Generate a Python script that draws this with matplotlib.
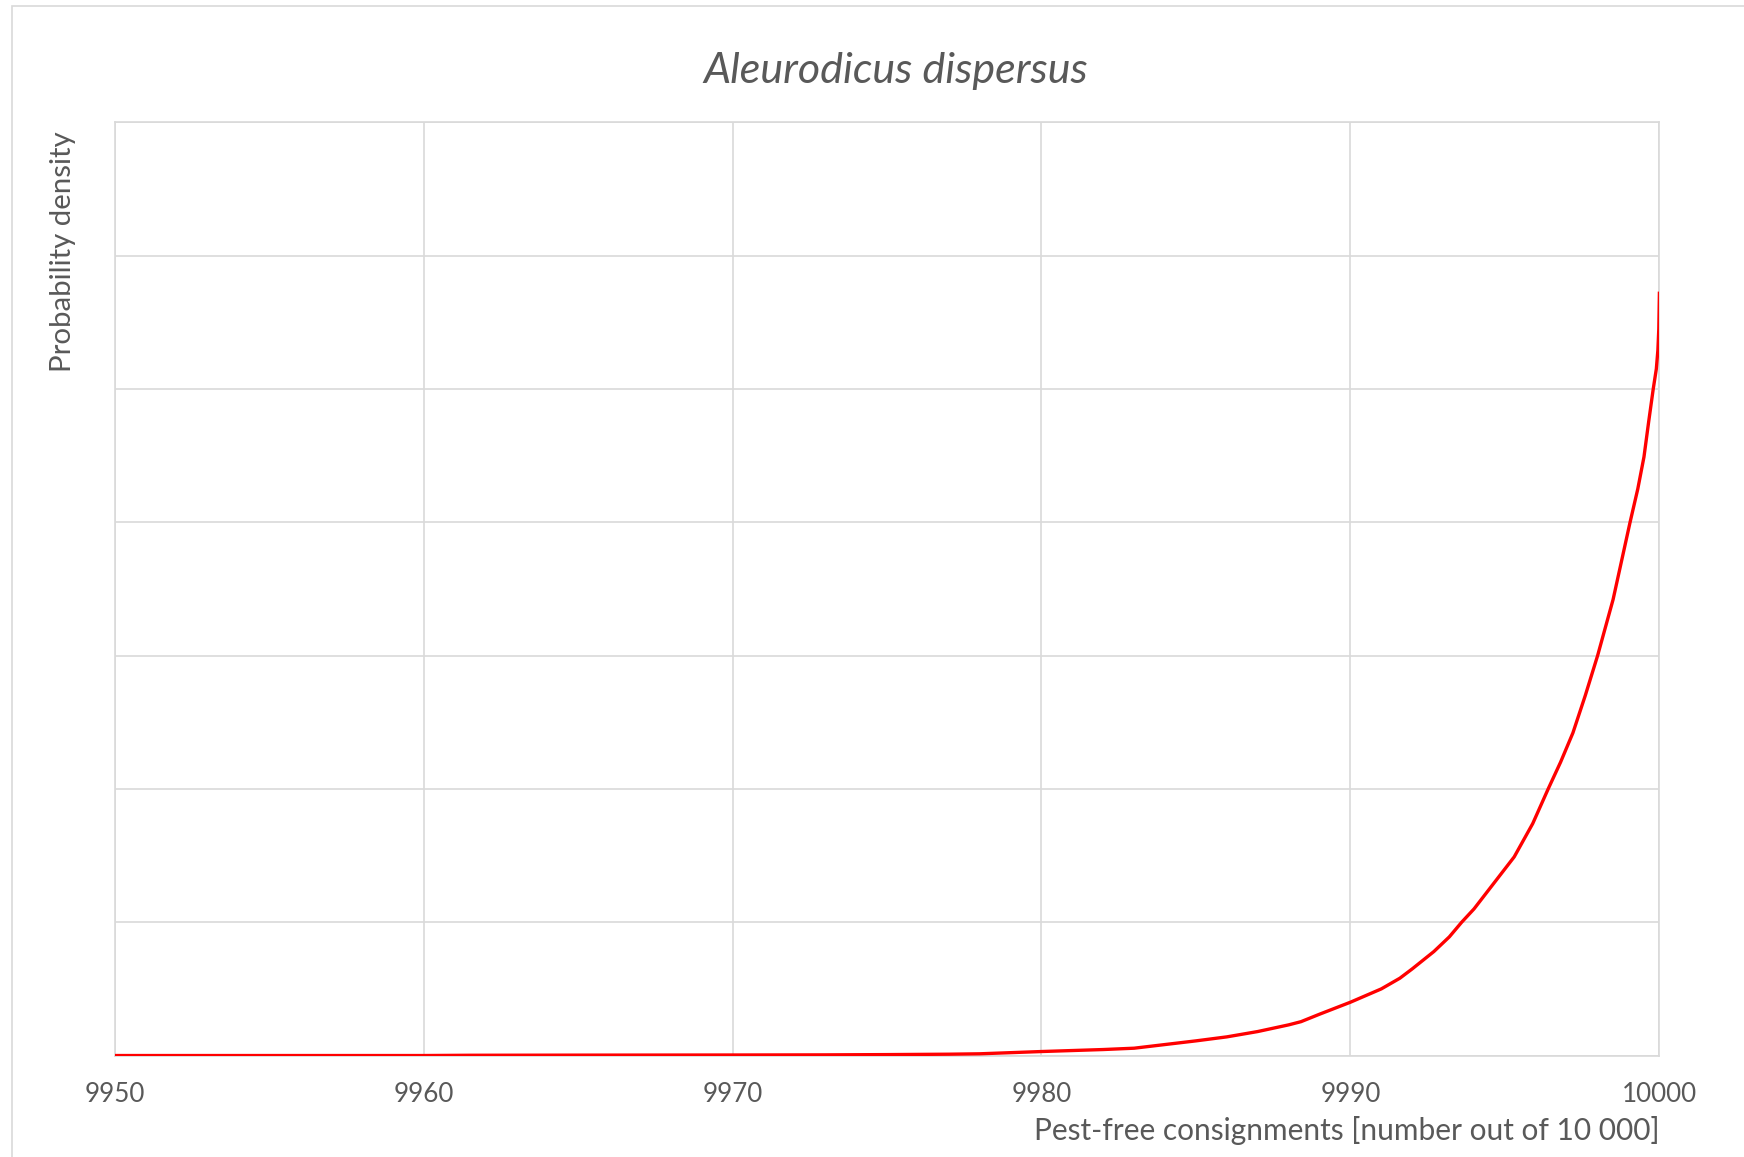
import matplotlib.pyplot as plt
from matplotlib.patches import Rectangle

# values (y in units of one gridline step)
pest_free = [9950, 9955, 9960, 9961.5, 9965, 9970, 9973, 9975, 9977, 9978,
             9980, 9982, 9983, 9985, 9986, 9987, 9988, 9988.4, 9989, 9990,
             9991, 9991.6, 9992, 9992.7, 9993.2, 9993.6, 9994.0, 9994.5,
             9995.0, 9995.3, 9995.9, 9996.4, 9996.8, 9997.2, 9997.6, 9998.0,
             9998.5, 9999.05, 9999.3, 9999.5, 9999.65, 9999.8, 9999.9,
             9999.95, 9999.98, 10000]
density = [0.0, 0.0, 0.0, 0.002, 0.003, 0.004, 0.005, 0.007, 0.010, 0.013,
           0.030, 0.045, 0.055, 0.11, 0.14, 0.18, 0.23, 0.254, 0.31, 0.40,
           0.50, 0.58, 0.65, 0.78, 0.89, 1.0, 1.1, 1.25,
           1.40, 1.49, 1.74, 2.0, 2.2, 2.42, 2.7, 3.0,
           3.42, 4.0, 4.25, 4.49, 4.75, 5.0, 5.15,
           5.29, 5.45, 5.73]

x_ticks = [9950, 9960, 9970, 9980, 9990, 10000]
y_grid = [0, 1, 2, 3, 4, 5, 6, 7]

titulo = 'Aleurodicus dispersus'
x_label = 'Pest-free consignments [number out of 10 000]'
y_label = 'Probability density'

texto = '#595959'
rejilla = '#D9D9D9'

plt.rcParams['font.family'] = ['Lato', 'DejaVu Sans']

fig = plt.figure(figsize=(17.44, 11.57), dpi=100)
ax = fig.add_axes([0.0657, 0.0877, 0.9515 - 0.0657, 0.8943 - 0.0877])

ax.plot(pest_free, density, color='#FF0000', lw=2.4, solid_capstyle='butt',
        solid_joinstyle='round', zorder=3)

ax.set_xlim(9950, 10000)
ax.set_ylim(0, 7)
ax.set_xticks(x_ticks)
ax.set_xticklabels([str(t) for t in x_ticks])
ax.set_yticks(y_grid)
ax.set_yticklabels([])
ax.tick_params(axis='both', length=0, labelsize=18.7, labelcolor=texto)
ax.tick_params(axis='x', pad=19)
ax.grid(True, color=rejilla, lw=1.2)
ax.set_axisbelow(True)
for s in ax.spines.values():
    s.set_color(rejilla)
    s.set_linewidth(1.2)

fig.text(0.5138, 0.9386, titulo, ha='center', va='center', fontsize=31,
         style='italic', color=texto)
fig.text(0.9515, 0.0233, x_label, ha='right', va='center', fontsize=21.5, color=texto)
fig.text(0.0361, 0.8868, y_label, ha='center', va='top', rotation=90,
         fontsize=21.2, color=texto)

# chart border, cut off on the right and bottom like the source
fig.patches.append(Rectangle((0.0069, -0.05), 1.1, 0.9948 + 0.05,
                             transform=fig.transFigure, fill=False,
                             edgecolor=rejilla, lw=1.2))

plt.savefig('out.png', dpi=100)
